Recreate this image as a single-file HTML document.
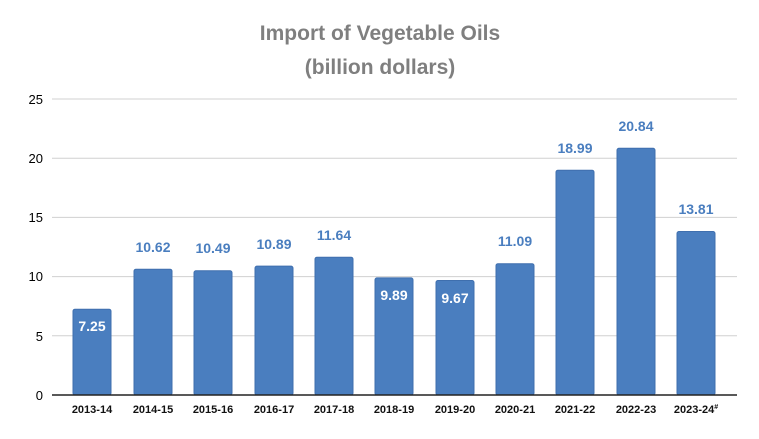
<!DOCTYPE html>
<html><head><meta charset="utf-8"><style>
body{margin:0;background:#fff}
svg{display:block;font-family:"Liberation Sans",sans-serif}
</style></head><body>
<svg width="759" height="439" viewBox="0 0 759 439">
<text x="380" y="40" text-anchor="middle" font-size="21" font-weight="bold" fill="#7f7f7f">Import of Vegetable Oils</text>
<text x="380" y="74" text-anchor="middle" font-size="21" font-weight="bold" fill="#7f7f7f">(billion dollars)</text>
<g stroke="#d0d0d0" stroke-width="1">
<line x1="52" x2="737" y1="99" y2="99"/>
<line x1="52" x2="737" y1="158.2" y2="158.2"/>
<line x1="52" x2="737" y1="217.4" y2="217.4"/>
<line x1="52" x2="737" y1="276.6" y2="276.6"/>
<line x1="52" x2="737" y1="335.8" y2="335.8"/>
</g>
<g font-size="13" fill="#000" text-anchor="end">
<text x="43" y="104">25</text><text x="43" y="163">20</text><text x="43" y="222">15</text>
<text x="43" y="281">10</text><text x="43" y="341">5</text><text x="43" y="400">0</text>
</g>
<g fill="#4a7ebf" stroke="#3f6fae" stroke-width="1">
<rect x="73" y="309.2" width="38" height="85.8" rx="2"/>
<rect x="134" y="269.2" width="38" height="125.8" rx="2"/>
<rect x="194" y="270.8" width="38" height="124.2" rx="2"/>
<rect x="255" y="266.1" width="38" height="128.9" rx="2"/>
<rect x="315" y="257.2" width="38" height="137.8" rx="2"/>
<rect x="375" y="277.9" width="38" height="117.1" rx="2"/>
<rect x="436" y="280.5" width="38" height="114.5" rx="2"/>
<rect x="496" y="263.7" width="38" height="131.3" rx="2"/>
<rect x="556" y="170.2" width="38" height="224.8" rx="2"/>
<rect x="617" y="148.3" width="38" height="246.7" rx="2"/>
<rect x="677" y="231.5" width="38" height="163.5" rx="2"/>
</g>
<line x1="52" x2="737" y1="395" y2="395" stroke="#222" stroke-width="1.5"/>
<g font-size="14" font-weight="bold" text-anchor="middle" fill="#4a7ebf">
<text x="153" y="252">10.62</text>
<text x="213" y="253">10.49</text>
<text x="274" y="249">10.89</text>
<text x="334" y="240">11.64</text>
<text x="515" y="246">11.09</text>
<text x="575" y="153">18.99</text>
<text x="636" y="131">20.84</text>
<text x="696" y="214">13.81</text>
</g>
<g font-size="14" font-weight="bold" text-anchor="middle" fill="#fff">
<text x="92" y="331">7.25</text>
<text x="394" y="300">9.89</text>
<text x="455" y="303">9.67</text>
</g>
<g font-size="11" font-weight="bold" text-anchor="middle" fill="#111">
<text x="92" y="413">2013-14</text><text x="153" y="413">2014-15</text><text x="213" y="413">2015-16</text>
<text x="274" y="413">2016-17</text><text x="334" y="413">2017-18</text><text x="394" y="413">2018-19</text>
<text x="455" y="413">2019-20</text><text x="515" y="413">2020-21</text><text x="575" y="413">2021-22</text>
<text x="636" y="413">2022-23</text><text x="696" y="413">2023-24<tspan font-size="7" dy="-4">#</tspan></text>
</g>
</svg>
</body></html>
